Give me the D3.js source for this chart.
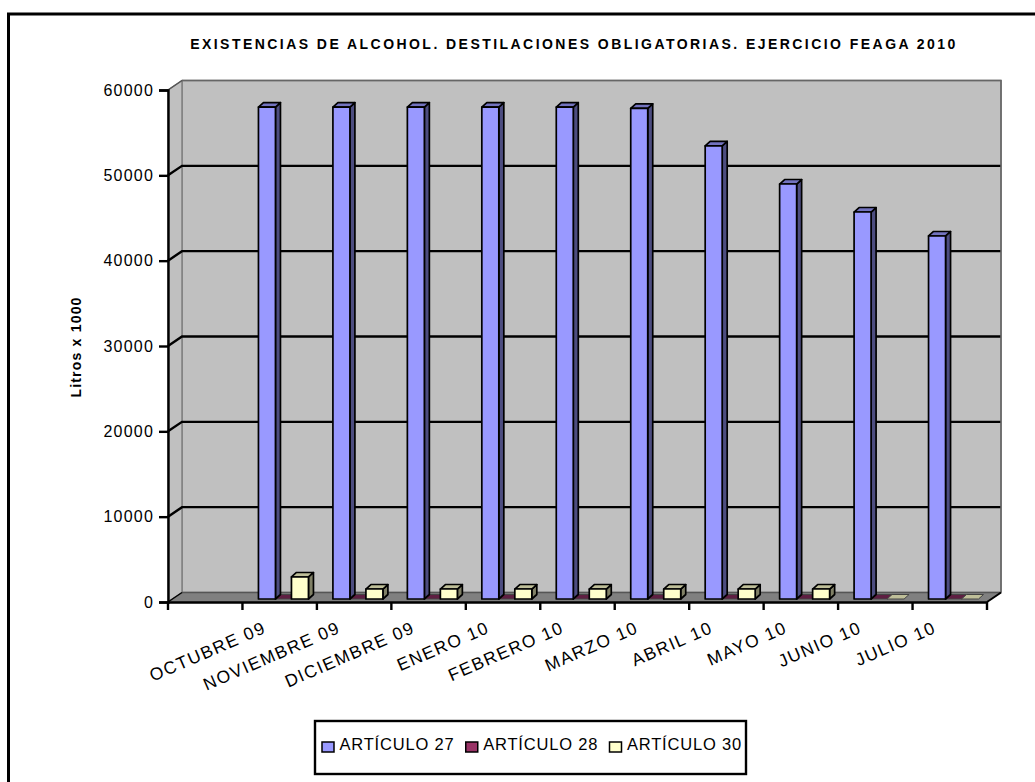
<!DOCTYPE html>
<html>
<head>
<meta charset="utf-8">
<script src="https://d3js.org/d3.v7.min.js"></script>
<style>
  html, body { margin: 0; padding: 0; background: #fff; overflow: hidden; }
  text { font-family: "Liberation Sans", Arial, sans-serif; fill: #000; }
</style>
</head>
<body>
<svg width="1035" height="782" style="display:block"></svg>
<script>
// values, litros x 1000
var months = ["OCTUBRE 09", "NOVIEMBRE 09", "DICIEMBRE 09", "ENERO 10", "FEBRERO 10",
              "MARZO 10", "ABRIL 10", "MAYO 10", "JUNIO 10", "JULIO 10"];
var art27 = [57650, 57650, 57650, 57650, 57650, 57500, 53100, 48630, 45350, 42540];
var art28 = [0, 0, 0, 0, 0, 0, 0, 0, 0, 0];
var art30 = [2580, 1170, 1170, 1170, 1170, 1170, 1170, 1170, 0, 0];
var seriesNames = ["ARTÍCULO 27", "ARTÍCULO 28", "ARTÍCULO 30"];
var seriesValues = [art27, art28, art30];
var yTicks = [0, 10000, 20000, 30000, 40000, 50000, 60000];

var fills = ["#9999FF", "#993366", "#FFFFCC"];
var sides = ["#4D4D80", "#4D1A33", "#808066"];
var tops = ["#7373BF", "#5E1F42", "#BFBF99"];

var svg = d3.select("svg");

// the frame is cut off by the picture, only top and left show
svg.append("path").attr("d", "M8.5,782V14H1035").attr("fill", "none")
  .attr("stroke", "#000").attr("stroke-width", 3);

// the axis has one more slot than there are months: labels sit in slots 0-9, bars in 1-10
var slots = d3.range(months.length + 1);
var x = d3.scaleBand().domain(slots).range([168, 987]);
var y = d3.scaleLinear().domain([0, 60000]).range([602, 90]);

// depth of the 3d box
var wallDx = 14, wallDy = -9.5;

function poly(pts, fill, stroke, sw) {
  return svg.append("polygon").attr("points", pts.map(function(p) { return p.join(","); }).join(" "))
    .attr("fill", fill).attr("stroke", stroke).attr("stroke-width", sw).attr("stroke-linejoin", "round");
}

var x0 = x.range()[0], x1 = x.range()[1], y0 = y(0), yMax = y(60000);

// walls and floor
poly([[x0 + wallDx, y0 + wallDy], [x1 + wallDx, y0 + wallDy], [x1 + wallDx, yMax + wallDy], [x0 + wallDx, yMax + wallDy]], "#C0C0C0", "#808080", 1.5);
poly([[x0, y0], [x0 + wallDx, y0 + wallDy], [x0 + wallDx, yMax + wallDy], [x0, yMax]], "#C0C0C0", "#808080", 1.5);
poly([[x0, y0], [x1, y0], [x1 + wallDx, y0 + wallDy], [x0 + wallDx, y0 + wallDy]], "#808080", "#808080", 1);
svg.append("line").attr("x1", x0 + wallDx).attr("x2", x1 + wallDx).attr("y1", y0 + wallDy).attr("y2", y0 + wallDy)
  .attr("stroke", "#555").attr("stroke-width", 1.5);

// gridlines, along the left wall and the back wall
yTicks.slice(1, -1).forEach(function(t) {
  svg.append("path")
    .attr("d", d3.line()([[x0, y(t)], [x0 + wallDx, y(t) + wallDy], [x1 + wallDx, y(t) + wallDy]]))
    .attr("fill", "none").attr("stroke", "#000").attr("stroke-width", 2.4);
});
svg.append("line").attr("x1", x0).attr("y1", yMax).attr("x2", x0 + wallDx).attr("y2", yMax + wallDy)
  .attr("stroke", "#555").attr("stroke-width", 1.5);
svg.append("path").attr("d", d3.line()([[x0 + wallDx, yMax + wallDy], [x1 + wallDx, yMax + wallDy], [x1 + wallDx, y0 + wallDy]]))
  .attr("fill", "none").attr("stroke", "#666").attr("stroke-width", 1.5);

// bars, the tall series goes last so its side covers the flat one next to it
var barW = 17, barStep = 16.5, barLeft = 16, barDx = 5, barDy = -4.5, baseDy = -3;
[1, 2, 0].forEach(function(s) {
  seriesValues[s].forEach(function(v, i) {
    var l = x(i + 1) + barLeft + s * barStep, r = l + barW;
    var b = y(0) + baseDy, t = y(v) + baseDy;
    if (v === 0) {
      // nothing but the lid lying on the floor
      poly([[l, t], [r, t], [r + barDx, t + barDy], [l + barDx, t + barDy]], tops[s], "#444", 1);
      return;
    }
    poly([[r, b], [r + barDx, b + barDy], [r + barDx, t + barDy], [r, t]], sides[s], "#000", 1.7);
    poly([[l, t], [r, t], [r + barDx, t + barDy], [l + barDx, t + barDy]], tops[s], "#000", 1.7);
    poly([[l, t], [r, t], [r, b], [l, b]], fills[s], "#000", 1.7);
  });
});

// axes
var yAxis = d3.axisLeft(y).tickValues(yTicks).tickSize(9).tickPadding(5).tickFormat(d3.format("d"));
var yg = svg.append("g").attr("transform", "translate(" + x0 + ",0)").call(yAxis);
yg.selectAll("path,line").attr("stroke", "#000").attr("stroke-width", 2.4);
yg.selectAll("text").attr("font-size", 16).attr("letter-spacing", 1.2)
  .attr("font-family", "Liberation Sans").attr("fill", "#111");

var xAxis = d3.axisBottom(x).tickSize(0).tickFormat("");
var xg = svg.append("g").attr("transform", "translate(0," + y0 + ")").call(xAxis);
xg.selectAll("path").attr("stroke", "#000").attr("stroke-width", 2.4);
svg.selectAll(".xt").data(slots).enter().append("line").attr("class", "xt")
  .attr("x1", function(d) { return x(d); }).attr("x2", function(d) { return x(d); })
  .attr("y1", y0).attr("y2", y0 + 8).attr("stroke", "#000").attr("stroke-width", 2.4);
svg.append("line").attr("x1", x1).attr("x2", x1).attr("y1", y0).attr("y2", y0 + 8)
  .attr("stroke", "#000").attr("stroke-width", 2.4);
svg.append("line").attr("x1", x1).attr("y1", y0).attr("x2", x1 + wallDx).attr("y2", y0 + wallDy)
  .attr("stroke", "#000").attr("stroke-width", 2);
svg.append("line").attr("x1", x0).attr("y1", y0).attr("x2", x0 + wallDx).attr("y2", y0 + wallDy)
  .attr("stroke", "#000").attr("stroke-width", 1.5);

// rotated month labels, end anchored
svg.selectAll(".mon").data(months).enter().append("text").attr("class", "mon")
  .attr("text-anchor", "end").attr("font-size", 17.5).attr("letter-spacing", 1.5).attr("fill", "#111")
  .attr("transform", function(d, i) {
    return "translate(" + (x(i) + x.bandwidth() / 2 + 62) + ",632) rotate(-23.5)";
  })
  .text(function(d) { return d; });

// titles
svg.append("text").attr("x", 574).attr("y", 49).attr("text-anchor", "middle")
  .attr("font-size", 14).attr("font-weight", "bold").attr("letter-spacing", 2.45)
  .text("EXISTENCIAS DE ALCOHOL. DESTILACIONES OBLIGATORIAS. EJERCICIO FEAGA 2010");
svg.append("text").attr("transform", "translate(81,347) rotate(-90)").attr("text-anchor", "middle")
  .attr("font-size", 14).attr("font-weight", "bold").attr("letter-spacing", 1.2).text("Litros x 1000");

// legend
svg.append("rect").attr("x", 315).attr("y", 721).attr("width", 431).attr("height", 53)
  .attr("fill", "#fff").attr("stroke", "#000").attr("stroke-width", 2.4);
var legX = d3.scalePoint().domain(seriesNames).range([322, 609.5]);
seriesNames.forEach(function(n, s) {
  svg.append("rect").attr("x", legX(n)).attr("y", 742).attr("width", 12).attr("height", 10)
    .attr("fill", fills[s]).attr("stroke", "#000").attr("stroke-width", 1.5);
  svg.append("text").attr("x", legX(n) + 17.5).attr("y", 750).attr("font-size", 16.5).attr("letter-spacing", 0.8).text(n);
});
</script>
</body>
</html>
